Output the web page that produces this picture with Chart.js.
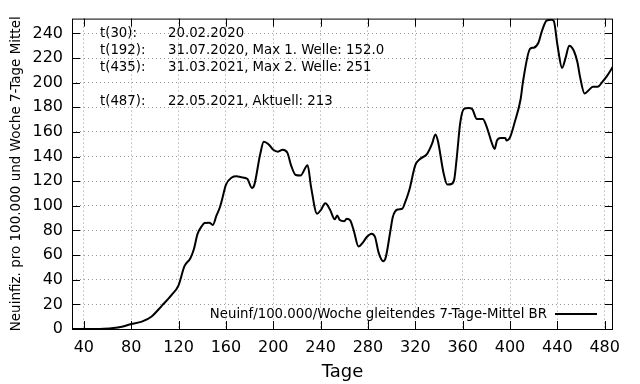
<!DOCTYPE html>
<html>
<head>
<meta charset="utf-8">
<script src="https://cdn.jsdelivr.net/npm/chart.js@4/dist/chart.umd.min.js"></script>
<style>
  body { margin: 0; background: #fff; }
  #wrap { position: relative; width: 640px; height: 384px; font-family: "DejaVu Sans", sans-serif; color: #000; }
  .note { position: absolute; font-size: 13.3px; line-height: 16px; white-space: nowrap; }
  #legendText { position: absolute; right: 93px; top: 306px; font-size: 13.3px; line-height: 16px; white-space: nowrap; }
  #legendLine { position: absolute; left: 555px; top: 313px; width: 42px; height: 2px; background: #000; }
</style>
</head>
<body>
<div id="wrap">
  <canvas id="chart" width="640" height="384"></canvas>
  <div class="note" style="left:100px; top:25px">t(30):</div>
  <div class="note" style="left:168px; top:25px">20.02.2020</div>
  <div class="note" style="left:100px; top:42px">t(192):</div>
  <div class="note" style="left:168px; top:42px">31.07.2020, Max 1. Welle: 152.0</div>
  <div class="note" style="left:100px; top:59px">t(435):</div>
  <div class="note" style="left:168px; top:59px">31.03.2021, Max 2. Welle: 251</div>
  <div class="note" style="left:100px; top:93px">t(487):</div>
  <div class="note" style="left:168px; top:93px">22.05.2021, Aktuell: 213</div>
  <div id="legendText">Neuinf/100.000/Woche gleitendes 7-Tage-Mittel BR</div>
  <div id="legendLine"></div>
</div>
<script>
  // Tage seit Beginn und 7-Tage-Mittel
  const tage = [30, 40, 50, 57, 65, 72, 80, 89, 97, 106, 114, 120, 125, 130, 133, 136, 140, 142, 146, 149,
    152, 155, 157, 160, 165, 169, 173, 178, 182, 184, 189, 192, 196, 200, 204, 208, 212, 215, 219, 223,
    229, 232, 237, 240, 244, 248, 252, 254, 256, 260, 262, 265, 268, 272, 276, 279, 283, 286, 289, 293,
    295, 299, 301, 305, 309, 311, 315, 320, 324, 330, 334, 337, 339, 344, 347, 351, 353, 355, 358, 361,
    365, 368, 372, 377, 380, 385, 387, 389, 392, 396, 397, 400, 404, 409, 411, 417, 420, 424, 427, 431,
    435, 437, 440, 444, 447, 450, 454, 457, 459, 463, 466, 470, 474, 478, 482, 487];
  const werte = [0, 0, 0, 0.2, 0.8, 1.9, 4, 6, 10, 19, 27.5, 35.5, 51, 57.5, 65, 77, 84, 86, 86.3, 84.5,
    92, 99, 106, 117, 123, 124, 123.2, 122, 114.5, 117, 142, 152, 150, 145.5, 144, 145.6, 143, 133, 125, 124.6,
    133, 115, 93.6, 96.3, 102, 96.8, 89, 92.2, 88.7, 87.5, 89.6, 88.2, 80, 67, 70.6, 74.7, 77.4, 74.7, 62, 55,
    58, 80, 91, 97, 97.6, 101.7, 113, 133, 138, 142.2, 150, 158, 153, 126, 117.3, 117.9, 122, 139, 167.7, 178.6,
    179.5, 178.6, 170.5, 170.5, 165, 150, 146.2, 153, 155, 155, 153, 155.6, 168, 186.7, 201, 227.6, 228.4, 232.4, 242, 250.5,
    251, 250, 231, 212, 220.3, 230, 225.7, 216.3, 205.5, 191.2, 193.4, 196.6, 196.6, 200.6, 205.5, 213];

  const xTicks = [40, 80, 120, 160, 200, 240, 280, 320, 360, 400, 440, 480];
  const yTicks = [0, 20, 40, 60, 80, 100, 120, 140, 160, 180, 200, 220, 240];

  const points = tage.map((t, i) => ({ x: t, y: werte[i] }));

  // frame and inward tick marks like gnuplot
  const framePlugin = {
    id: 'frame',
    afterDraw(chart) {
      const { ctx, chartArea: a, scales } = chart;
      ctx.save();
      ctx.setLineDash([]);
      ctx.strokeStyle = '#000';
      ctx.lineWidth = 1;
      ctx.strokeRect(a.left + 0.5, a.top + 0.5, a.right - a.left - 1, a.bottom - a.top);
      ctx.beginPath();
      xTicks.forEach(v => {
        const x = Math.round(scales.x.getPixelForValue(v)) + 0.5;
        ctx.moveTo(x, a.bottom); ctx.lineTo(x, a.bottom - 8);
        ctx.moveTo(x, a.top); ctx.lineTo(x, a.top + 8);
      });
      yTicks.forEach(v => {
        const y = Math.round(scales.y.getPixelForValue(v)) + 0.5;
        ctx.moveTo(a.left, y); ctx.lineTo(a.left + 8, y);
        ctx.moveTo(a.right, y); ctx.lineTo(a.right - 8, y);
      });
      ctx.stroke();
      ctx.restore();
    }
  };

  new Chart(document.getElementById('chart'), {
    type: 'line',
    data: {
      datasets: [{
        label: 'Neuinf/100.000/Woche gleitendes 7-Tage-Mittel BR',
        data: points,
        borderColor: '#000',
        borderWidth: 2,
        pointRadius: 0,
        fill: false,
        cubicInterpolationMode: 'monotone'
      }]
    },
    options: {
      responsive: false,
      animation: false,
      layout: { padding: { left: 0, right: 27, top: 17, bottom: 0 } },
      plugins: { legend: { display: false }, tooltip: { enabled: false } },
      scales: {
        x: {
          type: 'linear',
          min: 30,
          max: 487,
          afterBuildTicks: s => { s.ticks = xTicks.map(v => ({ value: v })); },
          afterFit: s => { s.height = 55; },
          grid: { color: '#999', drawTicks: false },
          border: { display: false, dash: [1, 3] },
          ticks: { color: '#000', padding: 9, maxRotation: 0, font: { family: 'DejaVu Sans', size: 16 } },
          title: { display: true, text: 'Tage', color: '#000', padding: { top: 0, bottom: 1 },
            font: { family: 'DejaVu Sans', size: 18 } }
        },
        y: {
          min: 0,
          max: 252,
          afterBuildTicks: s => { s.ticks = yTicks.map(v => ({ value: v })); },
          afterFit: s => { s.width = 72; },
          grid: { color: '#999', drawTicks: false },
          border: { display: false, dash: [1, 3] },
          ticks: { color: '#000', padding: 9, font: { family: 'DejaVu Sans', size: 16 } },
          title: { display: true, text: 'Neuinfiz. pro 100.000 und Woche 7-Tage Mittel', color: '#000',
            padding: { top: 8, bottom: 0 }, font: { family: 'DejaVu Sans', size: 13.5 } }
        }
      }
    },
    plugins: [framePlugin]
  });
</script>
</body>
</html>
